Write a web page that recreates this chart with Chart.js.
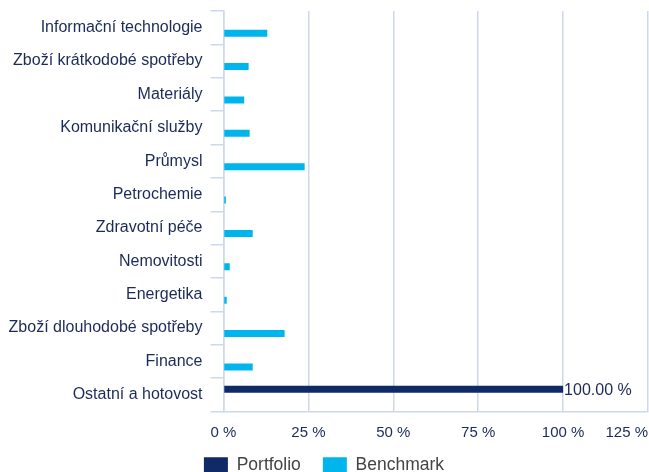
<!DOCTYPE html>
<html>
<head>
<meta charset="utf-8">
<script src="https://cdn.jsdelivr.net/npm/chart.js@4.4.1/dist/chart.umd.min.js"></script>
<style>
  html, body { margin: 0; padding: 0; background: #fff; }
  #wrap { width: 649px; height: 472px; position: relative; }
</style>
</head>
<body>
<div id="wrap"><canvas id="chart"></canvas></div>
<script>
const categories = [
  'Informační technologie',
  'Zboží krátkodobé spotřeby',
  'Materiály',
  'Komunikační služby',
  'Průmysl',
  'Petrochemie',
  'Zdravotní péče',
  'Nemovitosti',
  'Energetika',
  'Zboží dlouhodobé spotřeby',
  'Finance',
  'Ostatní a hotovost'
];
const portfolio = [0, 0, 0, 0, 0, 0, 0, 0, 0, 0, 0, 100];
const benchmark = [12.9, 7.4, 6.1, 7.7, 23.9, 0.7, 8.6, 1.85, 0.95, 18.0, 8.6, 0];
const xTicks = [0, 25, 50, 75, 100, 125];

const navy = '#0f2a66';
const cyan = '#00b5ec';
const textColor = '#1b2a58';
const gridColor = '#cdd8ea';
const font = "'Liberation Sans', Arial, sans-serif";

// value label at the end of non-zero portfolio bars
const barLabels = {
  id: 'barLabels',
  afterDatasetsDraw(chart) {
    const ctx = chart.ctx;
    const meta = chart.getDatasetMeta(0);
    ctx.save();
    ctx.font = '16px ' + font;
    ctx.fillStyle = textColor;
    ctx.textAlign = 'left';
    ctx.textBaseline = 'middle';
    meta.data.forEach((bar, i) => {
      const v = portfolio[i];
      if (!v) return;
      ctx.fillText(v.toFixed(2) + ' %', bar.x + 1, bar.y + 1);
    });
    ctx.restore();
  }
};

// x labels: first one centred, last one right-aligned, no clipping to the (short) axis box
const xLabelFix = {
  id: 'xLabelFix',
  beforeDraw(chart) {
    const x = chart.scales.x;
    x._computeLabelArea = () => undefined;
    const items = x.getLabelItems();
    if (items.length) {
      items[0].options.textAlign = 'center';
      items[0].textAlign = 'center';
    }
  }
};

new Chart(document.getElementById('chart'), {
  type: 'bar',
  data: {
    labels: categories,
    datasets: [
      { label: 'Portfolio', data: portfolio, backgroundColor: navy },
      { label: 'Benchmark', data: benchmark, backgroundColor: cyan }
    ]
  },
  options: {
    indexAxis: 'y',
    responsive: true,
    maintainAspectRatio: false,
    animation: false,
    categoryPercentage: 0.66,
    barPercentage: 0.64,
    layout: { padding: { top: 11, right: 1, left: 0, bottom: -12 } },
    scales: {
      x: {
        min: 0,
        max: 125,
        afterBuildTicks: scale => { scale.ticks = xTicks.map(v => ({ value: v })); },
        afterFit: scale => {
          scale.height = 23;
          scale.paddingLeft = 0;
          scale.paddingRight = 0;
        },
        grid: { color: gridColor, lineWidth: 1.5, drawTicks: false },
        border: { color: gridColor, width: 1.5 },
        ticks: {
          align: 'inner',
          padding: 12,
          color: textColor,
          font: { family: font, size: 15 },
          callback: v => v + ' %'
        }
      },
      y: {
        afterFit: scale => {
          scale.width = 223.5;
          scale.paddingTop = 0;
          scale.paddingBottom = 0;
        },
        grid: { offset: true, drawOnChartArea: false, color: gridColor, lineWidth: 1.5, tickLength: 13 },
        border: { color: gridColor, width: 1.5 },
        ticks: {
          padding: 8,
          color: textColor,
          font: { family: font, size: 16 }
        }
      }
    },
    plugins: {
      legend: {
        position: 'bottom',
        labels: {
          boxWidth: 24,
          boxHeight: 16,
          padding: 22,
          color: '#444',
          font: { family: font, size: 17.5 }
        }
      },
      tooltip: { enabled: false }
    }
  },
  plugins: [barLabels, xLabelFix]
});
</script>
</body>
</html>
